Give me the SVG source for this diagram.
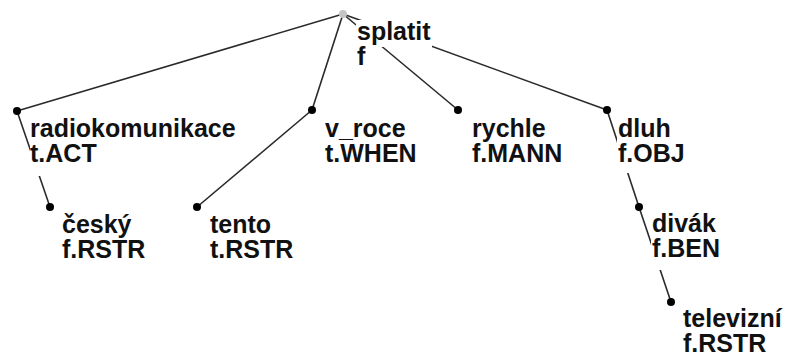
<svg xmlns="http://www.w3.org/2000/svg" width="787" height="354" viewBox="0 0 787 354">
  <style>
    .edge { stroke: #2a2a2a; stroke-width: 1.6; fill: none; }
    .dot { fill: #000; }
    .root { fill: #c4c4c4; }
    .bg { fill: #fff; }
    .lbl { font-family: "Liberation Sans", Arial, sans-serif; font-size: 25px; font-weight: bold; fill: #111; }
  </style>
  <rect width="787" height="354" fill="#fff"/>

  <!-- tree edges -->
  <g id="edges">
    <line class="edge" x1="343" y1="14" x2="17" y2="111"/>
    <line class="edge" x1="343" y1="14" x2="312" y2="110"/>
    <line class="edge" x1="343" y1="14" x2="458" y2="110"/>
    <line class="edge" x1="343" y1="14" x2="607" y2="110"/>
    <line class="edge" x1="17" y1="111" x2="50" y2="207"/>
    <line class="edge" x1="312" y1="110" x2="197" y2="207"/>
    <line class="edge" x1="607" y1="110" x2="639" y2="207"/>
    <line class="edge" x1="639" y1="207" x2="671" y2="302"/>
  </g>

  <!-- nodes: dot plus two-line label on a white backing -->
  <g id="n-splatit">
    <rect class="bg" x="356" y="20" width="76" height="27"/>
    <rect class="bg" x="356" y="45" width="12" height="27"/>
    <circle class="root" cx="343" cy="14" r="4"/>
    <text class="lbl" x="357" y="40">splatit</text>
    <text class="lbl" x="357" y="65">f</text>
  </g>

  <g id="n-radiokomunikace">
    <rect class="bg" x="30" y="117" width="216" height="27"/>
    <rect class="bg" x="30" y="143" width="64" height="33"/>
    <circle class="dot" cx="17" cy="111" r="4"/>
    <text class="lbl" x="30" y="137">radiokomunikace</text>
    <text class="lbl" x="30" y="162">t.ACT</text>
  </g>

  <g id="n-v_roce">
    <rect class="bg" x="324" y="117" width="96" height="27"/>
    <rect class="bg" x="324" y="142" width="96" height="33"/>
    <circle class="dot" cx="312" cy="110" r="4"/>
    <text class="lbl" x="325" y="137">v_roce</text>
    <text class="lbl" x="325" y="162">t.WHEN</text>
  </g>

  <g id="n-rychle">
    <rect class="bg" x="471" y="117" width="96" height="27"/>
    <rect class="bg" x="471" y="142" width="100" height="33"/>
    <circle class="dot" cx="458" cy="110" r="4"/>
    <text class="lbl" x="472" y="137">rychle</text>
    <text class="lbl" x="472" y="162">f.MANN</text>
  </g>

  <g id="n-dluh">
    <rect class="bg" x="617" y="117" width="60" height="27"/>
    <rect class="bg" x="617" y="142" width="82" height="31"/>
    <circle class="dot" cx="607" cy="110" r="4"/>
    <text class="lbl" x="618" y="137">dluh</text>
    <text class="lbl" x="618" y="162">f.OBJ</text>
  </g>

  <g id="n-cesky">
    <rect class="bg" x="61" y="213" width="80" height="27"/>
    <rect class="bg" x="61" y="238" width="92" height="30"/>
    <circle class="dot" cx="50" cy="207" r="4"/>
    <text class="lbl" x="62" y="233">český</text>
    <text class="lbl" x="62" y="258">f.RSTR</text>
  </g>

  <g id="n-tento">
    <rect class="bg" x="209" y="213" width="76" height="27"/>
    <rect class="bg" x="209" y="238" width="92" height="30"/>
    <circle class="dot" cx="197" cy="207" r="4"/>
    <text class="lbl" x="210" y="233">tento</text>
    <text class="lbl" x="210" y="258">t.RSTR</text>
  </g>

  <g id="n-divak">
    <rect class="bg" x="651" y="212" width="76" height="27"/>
    <rect class="bg" x="651" y="237" width="82" height="33"/>
    <circle class="dot" cx="639" cy="207" r="4"/>
    <text class="lbl" x="652" y="232">divák</text>
    <text class="lbl" x="652" y="257">f.BEN</text>
  </g>

  <g id="n-televizni">
    <rect class="bg" x="682" y="307" width="104" height="27"/>
    <rect class="bg" x="682" y="332" width="92" height="22"/>
    <circle class="dot" cx="671" cy="302" r="4"/>
    <text class="lbl" x="683" y="327">televizní</text>
    <text class="lbl" x="683" y="352">f.RSTR</text>
  </g>
</svg>
